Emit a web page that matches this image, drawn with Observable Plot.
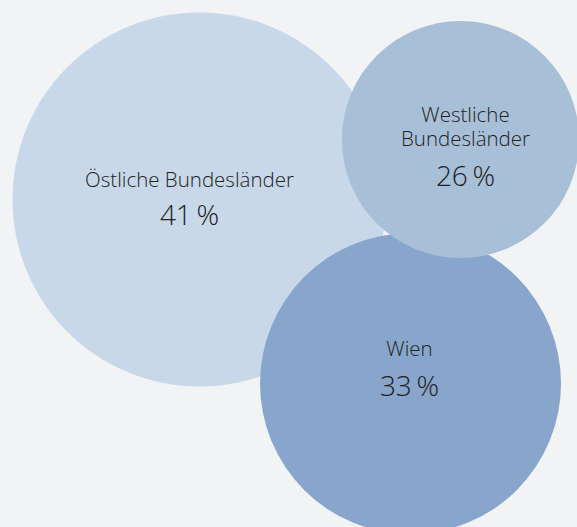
<!DOCTYPE html>
<html>
<head>
<meta charset="utf-8">
<script src="https://cdn.jsdelivr.net/npm/d3@7"></script>
<script src="https://cdn.jsdelivr.net/npm/@observablehq/plot@0.6"></script>
<style>
  html, body { margin: 0; padding: 0; background: #f2f3f5; }
  #chart svg { display: block; }
</style>
</head>
<body>
<div id="chart"></div>
<script>
// Data
const regions = ["Östliche Bundesländer", "Wien", "Westliche Bundesländer"];
const labelLines = ["Östliche Bundesländer", "Wien", "Westliche\nBundesländer"];
const shares = [41, 33, 26];

// Layout (pixel positions of circle centres and label offsets)
const centerX = [199, 410, 460];
const centerY = [199, 383, 139];
const labelX = [189, 409, 465];
const labelBaseline = [186, 355, 145];
const pctBaseline = [224, 395, 185];
const fills = ["#c8d8e8", "#88a6cc", "#a8bfd8"];

const data = regions.map((r, i) => ({
  region: r, label: labelLines[i], share: shares[i],
  cx: centerX[i], cy: centerY[i], lx: labelX[i], ly: labelBaseline[i], py: pctBaseline[i]
}));

const W = 577, H = 527;
const chart = Plot.plot({
  width: W, height: H,
  margin: 0,
  style: { background: "#f2f3f5", fontFamily: "'Open Sans', sans-serif", color: "#2b2b2b" },
  x: { domain: [0, W], range: [0, W], axis: null },
  y: { domain: [0, H], range: [0, H], axis: null },
  r: { type: "linear", domain: [0, 41], range: [0, 187] },
  color: { domain: regions, range: fills },
  marks: [
    Plot.dot(data, { x: "cx", y: "cy", r: "share", fill: "region", fillOpacity: 1, stroke: null }),
    Plot.text(data, { x: "lx", y: "ly", text: "label", lineAnchor: "bottom", lineHeight: 1.15, fontSize: 20.5, fontWeight: 300, fill: "#222" }),
    Plot.text(data, { x: "lx", y: "py", text: d => d.share + "\u2009%", lineAnchor: "bottom", fontSize: 28, fontWeight: 300, fill: "#222" })
  ]
});
document.getElementById("chart").appendChild(chart);
</script>
</body>
</html>
